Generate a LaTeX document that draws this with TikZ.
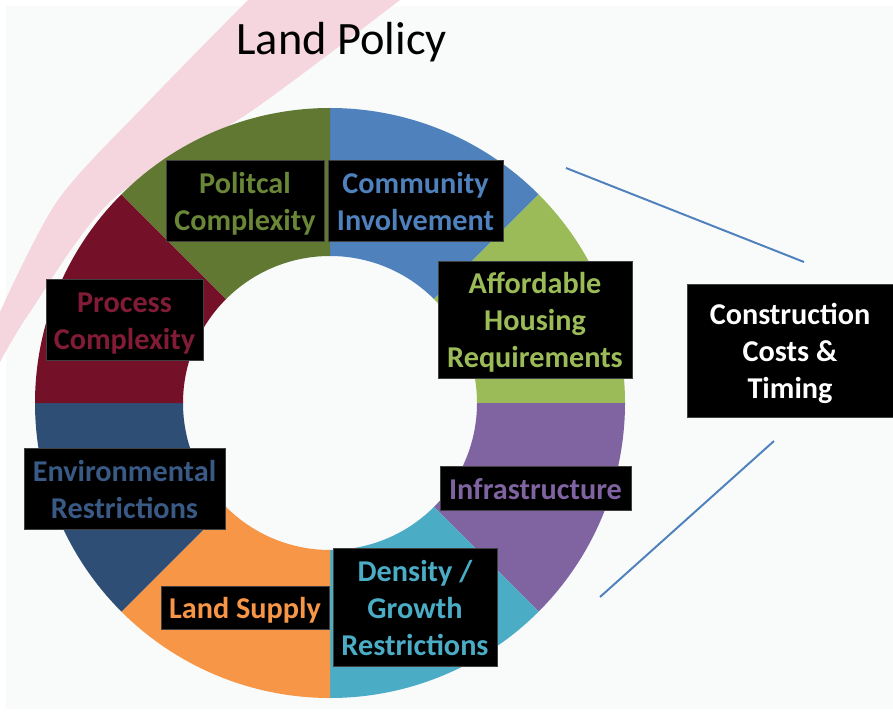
\documentclass[tikz,border=0pt]{standalone}
\usepackage{fontspec}
\setmainfont{Carlito}

\definecolor{cblue}{HTML}{4F81BD}
\definecolor{clgreen}{HTML}{9BBB59}
\definecolor{cpurple}{HTML}{8064A2}
\definecolor{cteal}{HTML}{4BACC6}
\definecolor{corange}{HTML}{F79646}
\definecolor{cdblue}{HTML}{2E4E76}
\definecolor{cmaroon}{HTML}{741129}
\definecolor{cdgreen}{HTML}{617833}
\definecolor{tdblue}{HTML}{3A5A86}
\definecolor{tmaroon}{HTML}{821C36}
\definecolor{tdgreen}{HTML}{6A8637}
\definecolor{swoosh}{HTML}{F5D6DE}
\definecolor{bggray}{HTML}{F9FAFA}

\newcommand{\pw}{0.025cm}
\newcommand{\boxfont}{\fontsize{21.5}{26.3}\selectfont\bfseries}
\newcommand{\titlefont}{\fontsize{33}{38}\selectfont}
\newcommand{\topstrut}{\rule{0pt}{20pt}}

\tikzset{
  lbl/.style={fill=black, draw=black!75, line width=0.6pt, inner sep=0pt, align=center, font=\boxfont,
    execute at end node={\rule[-4.3pt]{0pt}{4.3pt}}},
  link/.style={cblue, line width=1.4pt},
}

\begin{document}
\begin{tikzpicture}[x=0.025cm, y=-0.025cm]
  % Background
  \fill[white] (0,0) rectangle (893,714);
  \fill[bggray] (6,6) rectangle (893,709);
  \useasboundingbox (0,0) rectangle (893,714);

  % Pink swoosh behind the ring
  \fill[swoosh] plot[smooth] coordinates {(248,0) (150,100) (58,200) (0,312)}
    -- plot[smooth] coordinates {(0,362) (30,312) (112,200) (253,110) (400,0)} -- cycle;

  % Ring segments
  \foreach \a/\col in {270/cblue, 315/clgreen, 0/cpurple, 45/cteal, 90/corange, 135/cdblue, 180/cmaroon, 225/cdgreen} {
    \fill[\col, shift={(330,403)}] (\a:295) arc[start angle=\a, delta angle=45, radius=295]
      -- ({\a+45}:147) arc[start angle={\a+45}, delta angle=-45, radius=147] -- cycle;
  }

  % Title
  \node[font=\titlefont, anchor=base] (title) at (341.5,55) {Land Policy};

  % Labels on the ring
  \node[lbl, text=tdgreen, minimum width=158*\pw, minimum height=81*\pw] (polit) at (245,200.5) {\topstrut Politcal\\Complexity};
  \node[lbl, text=cblue, minimum width=175*\pw, minimum height=81*\pw] (commun) at (415.5,200.5) {\topstrut Community\\Involvement};
  \node[lbl, text=clgreen, minimum width=194*\pw, minimum height=117*\pw] (afford) at (535,319.5) {\topstrut Affordable\\Housing\\Requirements};
  \node[lbl, text=tmaroon, minimum width=157*\pw, minimum height=81*\pw] (process) at (124.5,319.5) {\topstrut Process\\Complexity};
  \node[lbl, text=tdblue, minimum width=201*\pw, minimum height=81*\pw] (environ) at (124.5,488.5) {\topstrut Environmental\\Restrictions};
  \node[lbl, text=corange, minimum width=168*\pw, minimum height=43*\pw] (landsup) at (245,607.5) {\topstrut Land Supply};
  \node[lbl, text=cteal, minimum width=164*\pw, minimum height=118*\pw] (density) at (415,607) {\topstrut Density /\\Growth\\Restrictions};
  \node[lbl, text=cpurple, minimum width=191*\pw, minimum height=44*\pw] (infra) at (535.5,488) {\topstrut Infrastructure};

  % Result box
  \node[lbl, text=white, minimum width=206*\pw, minimum height=133*\pw] (costs) at (790,350.5) {\topstrut Construction\\Costs \&\\Timing};

  % Bracket lines
  \coordinate (topnear) at (566,168);
  \coordinate (topfar) at (804,262);
  \coordinate (lownear) at (600,597);
  \coordinate (lowfar) at (774,441);
  \draw[link] (topnear) -- (topfar);
  \draw[link] (lownear) -- (lowfar);
\end{tikzpicture}
\end{document}
